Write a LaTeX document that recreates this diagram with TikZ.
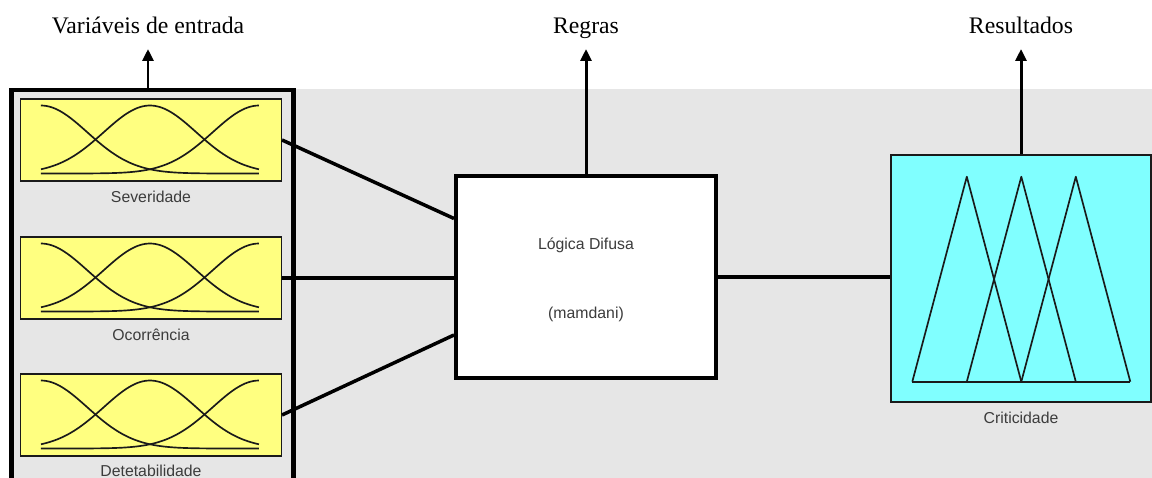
\documentclass[tikz,border=0pt]{standalone}
\usepackage{fontspec}
\setmainfont{Liberation Serif}
\setsansfont{Liberation Sans}
\usetikzlibrary{positioning,arrows.meta,calc}
\definecolor{panel}{HTML}{E6E6E6}
\definecolor{mfyel}{HTML}{FFFF80}
\definecolor{mfcyan}{HTML}{80FFFF}
\definecolor{ink}{HTML}{1A1A1A}
\definecolor{lbl}{HTML}{3C3C3C}
\tikzset{
  conn/.style={line width=2pt, color=black},
  arr/.style={-{Triangle[length=2.4mm,width=2.2mm]}, line width=1.7pt, color=black},
  frm/.style={draw=black, line width=2.3pt, inner sep=0pt},
  mfbox/.style={draw=ink, fill=mfyel, line width=0.6pt, inner sep=0pt,
                minimum width=5.22cm, minimum height=1.64cm},
  outbox/.style={draw=ink, fill=mfcyan, line width=0.8pt, inner sep=0pt,
                 minimum width=5.2cm, minimum height=4.94cm},
  rulebox/.style={draw=black, fill=white, line width=2.3pt,
                  minimum width=5.2cm, minimum height=4.04cm},
  mf/.style={line width=0.95pt, color=ink},
  var/.style={font=\sffamily\fontsize{9}{11}\selectfont, text=lbl, inner sep=0pt},
  ttl/.style={font=\fontsize{13.5}{16}\selectfont, inner sep=0pt,
              text height=0.7em, text depth=0.22em},
}

\begin{document}
\begin{tikzpicture}
  \useasboundingbox (0,0) rectangle (23.04,-9.56);
  % grey panel
  \fill[panel] (0.22,-1.79) rectangle (23.04,-9.56);

  % input variables
  \node[frm, minimum width=5.64cm, minimum height=8cm] (inputs) at (3.05,-5.8) {};
  \node[mfbox] (sev) at (3.02,-2.8) {};
  \node[mfbox] (oco) at (3.02,-5.56) {};
  \node[mfbox] (det) at (3.02,-8.3) {};
  \node[var, below=1.8mm of sev] {Severidade};
  \node[var, below=1.8mm of oco] {Ocorrência};
  \node[var, below=1.6mm of det] {Detetabilidade};
  \foreach \b in {sev,oco,det}{
    \begin{scope}[shift={(\b.south west)}]
      \foreach \c in {0.42,2.60,4.78}
        \draw[mf] plot[domain=0.42:4.78, samples=80, smooth]
          (\x,{0.16+1.36*exp(-((\x-\c)*(\x-\c))/1.715)});
    \end{scope}
  }

  % inference block
  \node[rulebox] (logica) at (11.72,-5.54) {};
  \node[var] (fuzzy) at ([yshift=0.64cm]logica.center) {Lógica Difusa};
  \node[var] (mamd) at ([yshift=-0.74cm]logica.center) {(mamdani)};

  % output
  \node[outbox] (crit) at (20.42,-5.57) {};
  \node[var, below=1.7mm of crit] {Criticidade};
  \begin{scope}[shift={(crit.south west)}]
    \foreach \k in {0,1,2}
      \draw[mf, line join=round] ({0.44+1.09*\k},0.42) -- ({1.53+1.09*\k},4.52) -- ({2.62+1.09*\k},0.42);
    \draw[mf] (0.44,0.42) -- (4.80,0.42);
  \end{scope}

  % connectors
  \draw[conn] (sev.east) -- ([yshift=1.17cm]logica.west);
  \draw[conn] (oco.east) -- (oco.east -| logica.west);
  \draw[conn] (det.east) -- ([yshift=-1.16cm]logica.west);
  \draw[conn] (logica.east) -- (logica.east -| crit.west);

  % titles and arrows
  \coordinate (tipin) at (2.96,-0.98);
  \coordinate (tiprg) at (logica.north |- tipin);
  \coordinate (tiprs) at (crit.north |- tipin);
  \draw[arr] (tipin |- inputs.north) -- (tipin);
  \draw[arr] (logica.north) -- (tiprg);
  \draw[arr] (crit.north) -- (tiprs);
  \node[ttl, above=2.2mm of tipin] {Variáveis de entrada};
  \node[ttl, above=2.2mm of tiprg] {Regras};
  \node[ttl, above=2.2mm of tiprs] {Resultados};
\end{tikzpicture}
\end{document}
